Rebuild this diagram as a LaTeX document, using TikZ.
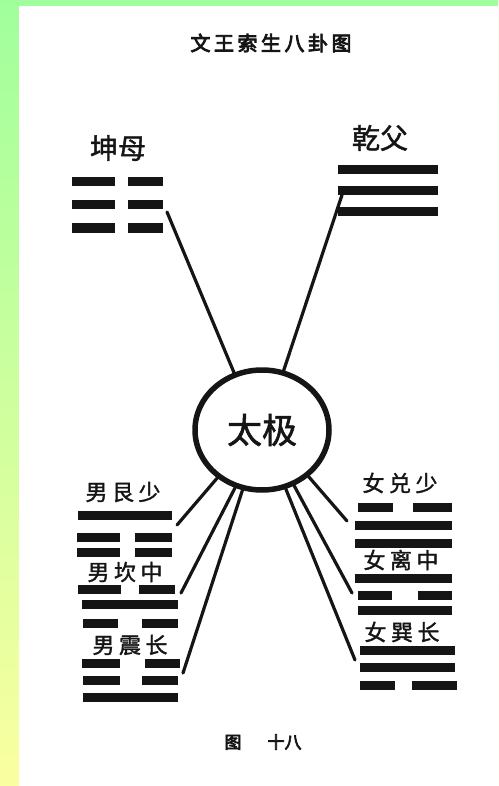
\documentclass[tikz,border=0pt]{standalone}
\usepackage{fontspec}
\usepackage{tikz}
\usetikzlibrary{shapes.geometric}
\newfontfamily\cjk[FakeBold=1.5]{Noto Sans CJK SC}
\newfontfamily\cjkheavy[FakeBold=4]{Noto Sans CJK SC}
\definecolor{edgegreen}{HTML}{A0FF9C}
\definecolor{edgeyellow}{HTML}{FAFFA0}
\definecolor{ink}{HTML}{151515}

\begin{document}
\begin{tikzpicture}[
  x=1pt,y=-1pt,
  guaname/.style={text=ink,inner sep=0pt,font=\cjk\fontsize{22}{22}\selectfont},
  bigname/.style={guaname,font=\cjk\fontsize{28}{28}\selectfont},
  heading/.style={text=ink,inner sep=0pt,font=\cjkheavy\fontsize{20}{20}\selectfont},
  bar/.style={draw=ink,line width=9pt},
  spoke/.style={draw=ink,line width=3.2pt,line cap=round},
  ring/.style={ellipse,draw=ink,line width=5.5pt,minimum width=134pt,minimum height=120pt,
               inner sep=0pt,text=ink,font=\cjk\fontsize{35}{35}\selectfont}
]
\useasboundingbox (0,0) rectangle (498,786);
% page edge
\fill[top color=edgegreen,bottom color=edgeyellow] (0,0) rectangle (498,786);
\fill[white] (19,6) rectangle (498,786);

\node[heading] (title) at (271,43) {文\hspace{3.5pt}王\hspace{3.5pt}索\hspace{3.5pt}生\hspace{3.5pt}八\hspace{3.5pt}卦\hspace{3.5pt}图};

\node[ring] (taiji) at (262,430) {太极};

\node[bigname] (kunname)  at (118,148) {坤母};
\node[bigname] (qianname) at (380,138) {乾父};

\node[guaname] (genname)  at (123,492) {男\hspace{4.5pt}艮\hspace{4.5pt}少};
\node[guaname] (kanname)  at (125,572) {男\hspace{4.5pt}坎\hspace{4.5pt}中};
\node[guaname] (zhenname) at (130,645) {男\hspace{4.5pt}震\hspace{4.5pt}长};
\node[guaname] (duiname)  at (400,483) {女\hspace{4.5pt}兑\hspace{4.5pt}少};
\node[guaname] (liname)   at (401,560) {女\hspace{4.5pt}离\hspace{4.5pt}中};
\node[guaname] (xunname)  at (402,632) {女\hspace{4.5pt}巽\hspace{4.5pt}长};

\node[heading,font=\cjkheavy\fontsize{17}{17}\selectfont] (figno) at (263,742) {图\hspace{26pt}十八};

% trigrams
\foreach \y in {182,205,228}
  \draw[bar] (72,\y) -- (115,\y) (128,\y) -- (163,\y);
\foreach \y in {170,191,212}
  \draw[bar] (338,\y) -- (438,\y);

\draw[bar] (78,515) -- (172,515);
\foreach \y in {537,552}
  \draw[bar] (77,\y) -- (120,\y) (135,\y) -- (172,\y);

\draw[bar] (78,589) -- (121,589) (139,589) -- (175,589);
\draw[bar] (82,604) -- (178,604);
\draw[bar] (83,623) -- (118,623) (142,623) -- (178,623);

\draw[bar] (82,663) -- (120,663) (145,663) -- (180,663);
\draw[bar] (83,680) -- (120,680) (142,680) -- (178,680);
\draw[bar] (83,697) -- (178,697);

\draw[bar] (358,507) -- (393,507) (413,507) -- (452,507);
\foreach \y in {525,543}
  \draw[bar] (355,\y) -- (452,\y);

\draw[bar] (355,578) -- (452,578);
\draw[bar] (358,595) -- (392,595) (418,595) -- (452,595);
\draw[bar] (358,610) -- (452,610);

\foreach \y in {650,667}
  \draw[bar] (360,\y) -- (455,\y);
\draw[bar] (360,685) -- (395,685) (412,685) -- (457,685);

% spokes
\coordinate (kunend)  at (167,212);
\coordinate (qianend) at (342,195);
\coordinate (genend)  at (177,525);
\coordinate (kanend)  at (181,593);
\coordinate (zhenend) at (183,673);
\coordinate (duiend)  at (347,521);
\coordinate (liend)   at (352,593);
\coordinate (xunend)  at (355,660);

\draw[spoke] (taiji.116) -- (kunend);
\draw[spoke] (taiji.70)  -- (qianend);
\draw[spoke] (taiji.227) -- (genend);
\draw[spoke] (taiji.245) -- (kanend);
\draw[spoke] (taiji.252) -- (zhenend);
\draw[spoke] (taiji.315) -- (duiend);
\draw[spoke] (taiji.300) -- (liend);
\draw[spoke] (taiji.292) -- (xunend);
\end{tikzpicture}
\end{document}
